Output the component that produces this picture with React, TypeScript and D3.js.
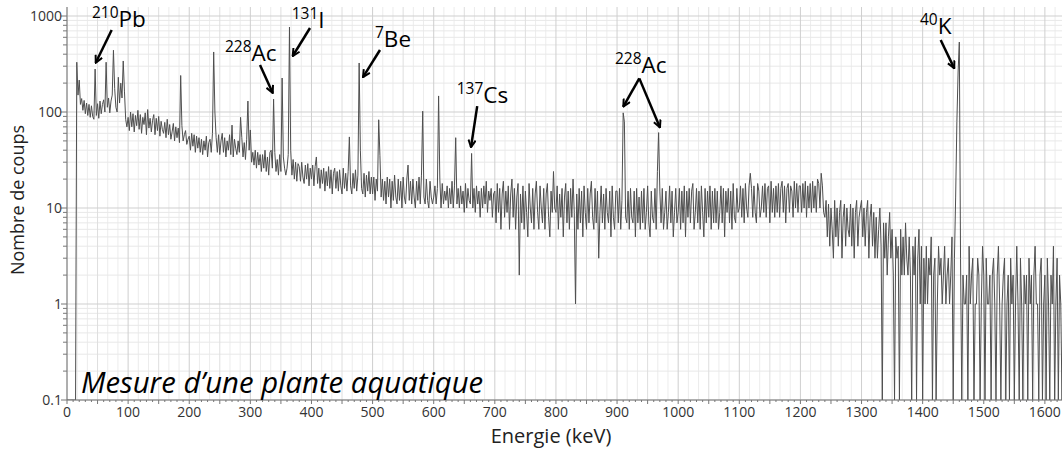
import React from "react";
import * as d3 from "d3";

// gamma spectrum, counts per 2 keV channel, one block per 100 keV
const CHANNEL_KEV = 2;

const counts0000 = [
  0, 0, 0, 0, 0, 0, 0, 0, 330, 150,
  215, 120, 138, 104, 132, 96, 124, 92, 120, 88,
  116, 90, 84, 280, 92, 122, 86, 130, 96, 120,
  134, 100, 330, 112, 140, 98, 130, 150, 440, 175,
  112, 100, 230, 124, 200, 140, 340, 165, 84, 70,
];
const counts0100 = [
  88, 64, 100, 70, 96, 62, 92, 72, 104, 66,
  94, 60, 88, 74, 98, 58, 106, 68, 86, 62,
  82, 94, 58, 86, 64, 90, 56, 80, 66, 60,
  78, 54, 84, 58, 74, 52, 62, 76, 50, 70,
  54, 68, 48, 240, 72, 50, 58, 64, 46, 52,
];
const counts0200 = [
  56, 40, 60, 44, 58, 38, 56, 42, 54, 38,
  52, 36, 50, 40, 56, 34, 48, 52, 38, 60,
  422, 100, 54, 38, 58, 36, 50, 60, 38, 54,
  34, 50, 40, 58, 36, 73, 34, 52, 42, 36,
  50, 38, 88, 54, 34, 48, 32, 52, 130, 40,
];
const counts0300 = [
  65, 30, 38, 28, 40, 26, 38, 28, 36, 24,
  36, 26, 40, 24, 34, 22, 38, 40, 26, 136,
  38, 24, 32, 22, 36, 24, 226, 34, 26, 22,
  26, 36, 768, 40, 22, 32, 20, 30, 19, 29,
  27, 19, 30, 21, 18, 28, 20, 29, 17, 26,
];
const counts0400 = [
  20, 28, 17, 27, 34, 18, 26, 16, 25, 18,
  26, 15, 24, 17, 27, 16, 25, 14, 23, 26,
  16, 24, 15, 25, 17, 14, 26, 16, 23, 15,
  24, 55, 17, 14, 23, 16, 25, 15, 22, 324,
  40, 16, 14, 23, 13, 22, 15, 24, 14, 21,
];
const counts0500 = [
  14, 21, 12, 20, 15, 83, 35, 13, 20, 12,
  19, 11, 21, 13, 20, 10, 19, 12, 22, 13,
  11, 20, 12, 19, 10, 21, 13, 11, 20, 28,
  12, 19, 11, 20, 13, 10, 19, 12, 21, 11,
  22, 102, 13, 11, 20, 12, 10, 19, 13, 11,
];
const counts0600 = [
  13, 17, 11, 16, 147, 20, 10, 18, 11, 15,
  12, 17, 10, 16, 11, 19, 10, 17, 54, 11,
  16, 10, 17, 11, 15, 9, 18, 10, 16, 12,
  11, 37, 10, 16, 9, 17, 11, 15, 8, 16,
  10, 17, 11, 19, 9, 15, 12, 16, 8, 14,
];
const counts0700 = [
  15, 7, 18, 9, 16, 6, 14, 19, 8, 15,
  9, 17, 6, 14, 20, 8, 16, 6, 13, 18,
  2, 14, 7, 17, 6, 15, 9, 5, 18, 10,
  7, 16, 6, 14, 19, 9, 6, 17, 10, 7,
  16, 6, 14, 18, 8, 5, 15, 9, 24, 10,
];
const counts0800 = [
  9, 17, 6, 14, 8, 16, 5, 13, 18, 7,
  15, 6, 16, 8, 20, 9, 1, 14, 6, 16,
  7, 15, 5, 17, 9, 6, 16, 7, 14, 19,
  8, 6, 16, 7, 15, 3, 9, 17, 7, 14,
  6, 16, 9, 7, 15, 5, 17, 8, 6, 15,
];
const counts0900 = [
  15, 7, 16, 6, 12, 98, 79, 8, 7, 15,
  6, 16, 8, 7, 15, 5, 16, 7, 13, 6,
  15, 7, 16, 6, 9, 17, 7, 5, 15, 8,
  7, 16, 6, 24, 61, 15, 7, 16, 6, 9,
  15, 6, 9, 17, 7, 15, 5, 9, 16, 7,
];
const counts1000 = [
  9, 16, 6, 15, 7, 17, 5, 15, 8, 16,
  7, 15, 18, 6, 9, 16, 7, 15, 6, 17,
  9, 5, 16, 7, 15, 8, 17, 6, 15, 7,
  16, 7, 15, 6, 9, 17, 7, 16, 5, 15,
  9, 16, 7, 15, 6, 18, 8, 7, 16, 9,
];
const counts1100 = [
  10, 17, 8, 16, 7, 18, 10, 8, 17, 23,
  16, 8, 17, 9, 7, 18, 15, 8, 10, 17,
  9, 18, 8, 16, 17, 7, 19, 9, 16, 8,
  17, 9, 18, 8, 16, 19, 9, 17, 7, 16,
  18, 9, 17, 15, 8, 19, 10, 18, 9, 17,
];
const counts1200 = [
  17, 9, 18, 10, 19, 8, 17, 10, 18, 9,
  19, 10, 17, 9, 20, 18, 10, 23, 17, 9,
  8, 12, 5, 11, 4, 10, 6, 3, 12, 5,
  10, 4, 9, 12, 3, 8, 11, 4, 10, 6,
  5, 11, 4, 10, 3, 9, 12, 4, 8, 10,
];
const counts1300 = [
  12, 5, 10, 4, 9, 12, 3, 8, 11, 4,
  9, 3, 8, 3, 6, 10, 4, 0, 7, 3,
  7, 2, 5, 9, 3, 6, 2, 0, 5, 3,
  4, 0, 6, 2, 5, 2, 7, 3, 2, 5,
  2, 0, 4, 2, 5, 0, 3, 6, 1, 4,
];
const counts1400 = [
  0, 3, 1, 4, 1, 3, 2, 5, 0, 2,
  3, 0, 1, 4, 2, 3, 1, 2, 4, 1,
  2, 3, 1, 2, 5, 0, 3, 13, 79, 261,
  535, 3, 0, 2, 1, 1, 2, 0, 4, 1,
  2, 3, 0, 1, 1, 3, 2, 0, 1, 4,
];
const counts1500 = [
  2, 0, 3, 1, 1, 2, 0, 2, 3, 1,
  0, 2, 4, 1, 0, 1, 2, 3, 0, 1,
  2, 0, 3, 1, 2, 0, 1, 4, 1, 0,
  3, 1, 0, 2, 1, 2, 0, 3, 1, 2,
  0, 2, 4, 1, 1, 0, 2, 3, 0, 1,
];
const counts1600 = [2, 0, 3, 1, 0, 2, 1, 4, 0, 1, 3, 0, 2, 1, 0, 3];

const blockStarts = [0, 100, 200, 300, 400, 500, 600, 700, 800, 900, 1000, 1100, 1200, 1300, 1400, 1500, 1600];
const blockCounts = [
  counts0000, counts0100, counts0200, counts0300, counts0400, counts0500, counts0600, counts0700,
  counts0800, counts0900, counts1000, counts1100, counts1200, counts1300, counts1400, counts1500, counts1600,
];

const xTicks = d3.range(0, 1601, 100);
const yTicks = [0.1, 1, 10, 100, 1000];
const yTickLabels = ["0.1", "1", "10", "100", "1000"];

// labels: [keV, counts] of the label start, arrows from tail to head
const peakLabels = [
  { mass: "210", name: "Pb", at: [40.9, 768], arrows: [[[73.1, 714], [47, 326]]] },
  { mass: "228", name: "Ac", at: [258.5, 340], arrows: [[[315.8, 309], [336.6, 158]]] },
  { mass: "131", name: "I", at: [367.6, 750], arrows: [[[397.6, 750], [369.3, 383]]] },
  { mass: "7", name: "Be", at: [503.9, 479], arrows: [[[512.1, 442], [484.3, 231]]] },
  { mass: "137", name: "Cs", at: [637.6, 124], arrows: [[[671.2, 115], [661, 43]]] },
  { mass: "228", name: "Ac", at: [896.6, 255], arrows: [[[936.4, 224], [910.2, 114]], [[936.4, 224], [970.2, 69]]] },
  { mass: "40", name: "K", at: [1395.6, 649], arrows: [[[1429.5, 562], [1451.7, 285]]] },
];

const W = 1062;
const H = 449;
const FONT = "'Open Sans', sans-serif";

export default function App() {
  const left = 67;
  const bottom = 400;
  const top = 7;

  const x = d3.scaleLinear().domain([0, 1628]).range([left, W]);
  const y = d3.scaleLog().domain([0.1, 1000]).range([bottom, 16]);

  const points: { e: number; c: number }[] = [];
  blockStarts.forEach((start, b) => {
    blockCounts[b].forEach((c, i) => points.push({ e: start + i * CHANNEL_KEV, c }));
  });

  const line = d3
    .line<{ e: number; c: number }>()
    .x((d) => x(d.e))
    .y((d) => (d.c > 0 ? y(d.c) : bottom));

  const minorX = d3.range(0, 1630, 50 / 3).filter((v) => Math.round(v) % 50 !== 0);
  const midX = d3.range(50, 1630, 100);
  const minorY: number[] = [];
  [0.1, 1, 10, 100].forEach((d) => d3.range(2, 10).forEach((k) => minorY.push(d * k)));
  const tickX10 = d3.range(0, 1630, 10);

  return (
    <svg
      width={W}
      height={H}
      style={{ position: "absolute", left: 0, top: 0, background: "#fff" }}
      fontFamily={FONT}
    >
      <defs>
        <clipPath id="plot">
          <rect x={left} y={top} width={W - left} height={bottom - top} />
        </clipPath>
        <marker id="head" viewBox="0 0 10 10" refX={9} refY={5} markerWidth={9} markerHeight={9}
          markerUnits="userSpaceOnUse" orient="auto">
          <path d="M1,1 L9,5 L1,9" fill="none" stroke="#000" strokeWidth={2.2} />
        </marker>
      </defs>

      {/* grid */}
      <g>
        {minorX.map((v) => (
          <line key={"mx" + v} x1={x(v)} x2={x(v)} y1={top} y2={bottom} stroke="#ececec" />
        ))}
        {minorY.map((v) => (
          <line key={"my" + v} x1={left} x2={W} y1={y(v)} y2={y(v)} stroke="#e8e8e8" />
        ))}
        {midX.map((v) => (
          <line key={"dx" + v} x1={x(v)} x2={x(v)} y1={top} y2={bottom} stroke="#dedede" />
        ))}
        {xTicks.map((v) => (
          <line key={"gx" + v} x1={x(v)} x2={x(v)} y1={top} y2={bottom} stroke="#cfcfcf" />
        ))}
        {yTicks.map((v) => (
          <line key={"gy" + v} x1={left} x2={W} y1={y(v)} y2={y(v)} stroke="#cfcfcf" />
        ))}
      </g>

      {/* spectrum */}
      <path d={line(points) || ""} fill="none" stroke="#4f4f4f" strokeWidth={1} clipPath="url(#plot)" />

      {/* axes */}
      <g stroke="#777">
        <line x1={left} x2={left} y1={top} y2={bottom} />
        <line x1={left} x2={W} y1={bottom} y2={bottom} />
        {yTicks.map((v) => (
          <line key={"ty" + v} x1={left - 6} x2={left} y1={y(v)} y2={y(v)} />
        ))}
        {minorY.map((v) => (
          <line key={"tmy" + v} x1={left - 4} x2={left} y1={y(v)} y2={y(v)} />
        ))}
        {tickX10.map((v) => (
          <line key={"tx" + v} x1={x(v)} x2={x(v)} y1={bottom} y2={bottom + (v % 50 === 0 ? 4 : 2)} />
        ))}
      </g>
      <g fontSize={14} fill="#333">
        {yTicks.map((v, i) => (
          <text key={"ly" + v} x={left - 5} y={y(v)} dy="0.35em" textAnchor="end">
            {yTickLabels[i]}
          </text>
        ))}
        {xTicks.map((v) => (
          <text key={"lx" + v} x={x(v)} y={bottom + 17} textAnchor="middle">
            {v}
          </text>
        ))}
      </g>
      <text x={551} y={443} textAnchor="middle" fontSize={20} fill="#222">
        Energie (keV)
      </text>
      <text transform="translate(24,200) rotate(-90)" textAnchor="middle" fontSize={18} fill="#222">
        Nombre de coups
      </text>

      {/* peak annotations */}
      {peakLabels.map((p, i) => (
        <g key={"pk" + i}>
          <text x={x(p.at[0])} y={y(p.at[1])} fill="#000">
            <tspan fontSize={15.5} dy={-9}>{p.mass}</tspan>
            <tspan fontSize={22.5} dy={9}>{p.name}</tspan>
          </text>
          {p.arrows.map((a, j) => (
            <line key={j} x1={x(a[0][0])} y1={y(a[0][1])} x2={x(a[1][0])} y2={y(a[1][1])}
              stroke="#000" strokeWidth={2.5} markerEnd="url(#head)" />
          ))}
        </g>
      ))}

      <text x={81} y={393} fontSize={29.3} fontStyle="italic" fill="#000">
        Mesure d’une plante aquatique
      </text>
    </svg>
  );
}
